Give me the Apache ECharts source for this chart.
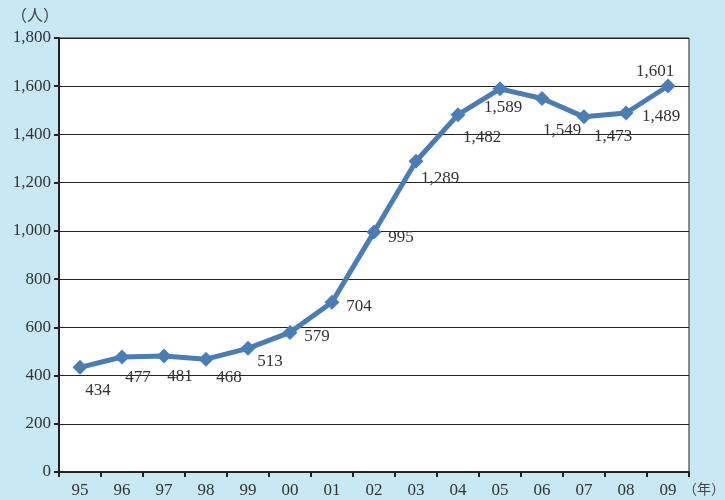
<!DOCTYPE html>
<html><head><meta charset="utf-8">
<script src="https://cdn.jsdelivr.net/npm/echarts@6/dist/echarts.min.js"></script>
<style>html,body{margin:0;padding:0;background:#c8e9f3;}#c{width:725px;height:500px;}</style>
</head><body><div id="c"></div>
<script>
const categories = ['95','96','97','98','99','00','01','02','03','04','05','06','07','08','09'];
const values = [434,477,481,468,513,579,704,995,1289,1482,1589,1549,1473,1489,1601];
const yTicks = [0,200,400,600,800,1000,1200,1400,1600,1800];
const labelOffsets = [[18,23],[16,21],[16,21],[23,18],[22,13],[27,4],[27,4],[27,5],[24,17],[24,23],[3,19],[20,32],[29,20],[35,4],[-13,-14]];

const fmt = v => v >= 1000 ? Math.floor(v/1000) + ',' + String(v%1000).padStart(3,'0') : String(v);
const serif = '"Liberation Serif","DejaVu Serif",serif';
const chart = echarts.init(document.getElementById('c'));
chart.setOption({
  backgroundColor: '#c8e9f3',
  animation: false,
  grid: {left: 59, right: 36, top: 38, bottom: 28, show: true, backgroundColor: '#ffffff', borderColor: '#222', borderWidth: 1},
  graphic: [
    {type: 'text', left: 11, top: 7, style: {text: '（人）', font: '16px "Noto Sans CJK JP"', fill: '#444'}},
    {type: 'text', left: 683, top: 482, style: {text: '（年）', font: '14px "Noto Sans CJK JP"', fill: '#444'}}
  ],
  xAxis: {
    type: 'category', data: categories, boundaryGap: true,
    axisLine: {lineStyle: {color: '#222', width: 2}},
    axisTick: {show: true, alignWithLabel: false, length: 5, lineStyle: {color: '#222', width: 2}},
    axisLabel: {color: '#333', fontFamily: serif, fontSize: 17, margin: 10}
  },
  yAxis: {
    type: 'value', min: yTicks[0], max: yTicks[yTicks.length-1], interval: 200,
    axisLine: {show: true, lineStyle: {color: '#222', width: 2}},
    axisTick: {show: true, length: 5, lineStyle: {color: '#222', width: 2}},
    splitLine: {show: true, lineStyle: {color: '#222', width: 1}},
    axisLabel: {color: '#333', fontFamily: serif, fontSize: 17, margin: 8, formatter: v => fmt(v)}
  },
  series: [{
    type: 'line', data: values.map((v,i) => ({value: v, label: {offset: labelOffsets[i]}})),
    symbol: 'diamond', symbolSize: 15,
    lineStyle: {color: '#4a7db5', width: 5},
    itemStyle: {color: '#4a7db5'},
    label: {show: true, position: 'inside', color: '#333', fontFamily: serif, fontSize: 17, formatter: p => fmt(p.value)}
  }]
});
</script></body></html>
